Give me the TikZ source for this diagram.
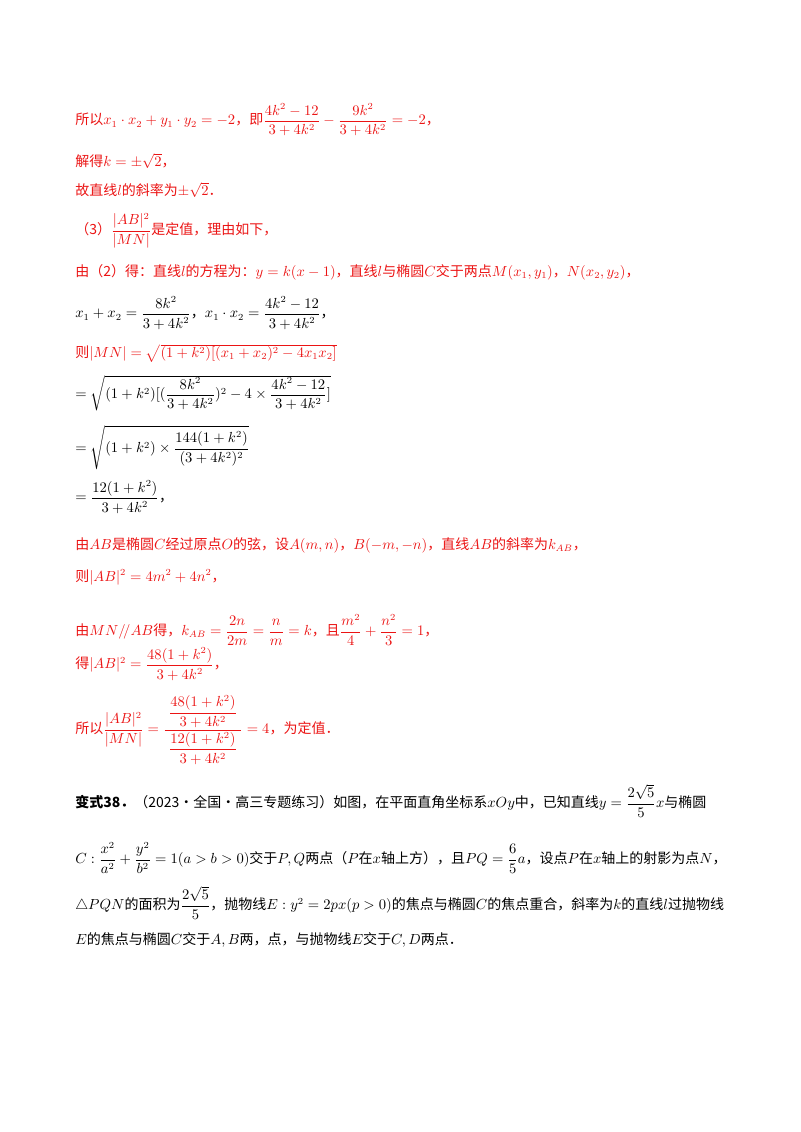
\documentclass[tikz,border=0pt]{standalone}
\usepackage{amsmath}
\usepackage{fontspec}
\newfontfamily\cjk{Noto Sans CJK SC}
\definecolor{ared}{RGB}{235,20,20}
\begin{document}
\begin{tikzpicture}[x=0.75pt,y=-0.75pt,
  ln/.style={anchor=west,inner sep=0pt,font=\fontsize{10.5}{12}\selectfont\cjk},
  rl/.style={ln,text=ared},bl/.style={ln,text=black}]
\useasboundingbox (0,0) rectangle (800,1132);
\node[rl] (l1) at (75,120) {所以$x_1\cdot x_2+y_1\cdot y_2=-2$，即$\dfrac{4k^2-12}{3+4k^2}-\dfrac{9k^2}{3+4k^2}=-2$，};
\node[rl] (l2) at (75,161) {解得$k=\pm\sqrt2$，};
\node[rl] (l3) at (75,190) {故直线$l$的斜率为$\pm\sqrt2$．};
\node[rl] (l4) at (75,231) {（3）$\dfrac{|AB|^2}{|MN|}$是定值，理由如下，};
\node[rl] (l5) at (75,272) {由（2）得：直线$l$的方程为：$y=k(x-1)$，直线$l$与椭圆$C$交于两点$M(x_1,y_1)$，$N(x_2,y_2)$，};
\node[bl] (l6) at (75,313) {$x_1+x_2=\dfrac{8k^2}{3+4k^2}$，$x_1\cdot x_2=\dfrac{4k^2-12}{3+4k^2}$，};
\node[rl] (l7) at (75,353) {则$|MN|=\sqrt{(1+k^2)[(x_1+x_2)^2-4x_1x_2]}$};
\node[bl] (l8) at (75,393) {$=\sqrt{(1+k^2)[(\dfrac{8k^2}{3+4k^2})^2-4\times\dfrac{4k^2-12}{3+4k^2}]}$};
\node[bl] (l9) at (75,448) {$=\sqrt{(1+k^2)\times\dfrac{144(1+k^2)}{(3+4k^2)^2}}$};
\node[bl] (l10) at (75,497) {$=\dfrac{12(1+k^2)}{3+4k^2}$，};
\node[rl] (l11) at (75,545) {由$AB$是椭圆$C$经过原点$O$的弦，设$A(m,n)$，$B(-m,-n)$，直线$AB$的斜率为$k_{AB}$，};
\node[rl] (l12) at (75,577) {则$|AB|^2=4m^2+4n^2$，};
\node[rl] (l13) at (75,630) {由$MN/\!/AB$得，$k_{AB}=\dfrac{2n}{2m}=\dfrac{n}{m}=k$，且$\dfrac{m^2}{4}+\dfrac{n^2}{3}=1$，};
\node[rl] (l14) at (75,664) {得$|AB|^2=\dfrac{48(1+k^2)}{3+4k^2}$，};
\node[rl] (l15) at (75,730) {所以$\dfrac{|AB|^2}{|MN|}=\dfrac{\;\dfrac{48(1+k^2)}{3+4k^2}\;}{\dfrac{12(1+k^2)}{3+4k^2}}=4$，为定值．};
\node[bl] (l16) at (75,801) {\textbf{变式38．}（2023·全国·高三专题练习）如图，在平面直角坐标系$xOy$中，已知直线$y=\dfrac{2\sqrt5}{5}x$与椭圆};
\node[bl] (l17) at (75,858) {$C:\dfrac{x^2}{a^2}+\dfrac{y^2}{b^2}=1(a>b>0)$交于$P,Q$两点（$P$在$x$轴上方），且$PQ=\dfrac65a$，设点$P$在$x$轴上的射影为点$N$，};
\node[bl] (l18) at (75,903) {$\triangle PQN$的面积为$\dfrac{2\sqrt5}{5}$，抛物线$E:y^2=2px(p>0)$的焦点与椭圆$C$的焦点重合，斜率为$k$的直线$l$过抛物线};
\node[bl] (l19) at (75,940) {$E$的焦点与椭圆$C$交于$A,B$两，点，与抛物线$E$交于$C,D$两点．};
\end{tikzpicture}
\end{document}
